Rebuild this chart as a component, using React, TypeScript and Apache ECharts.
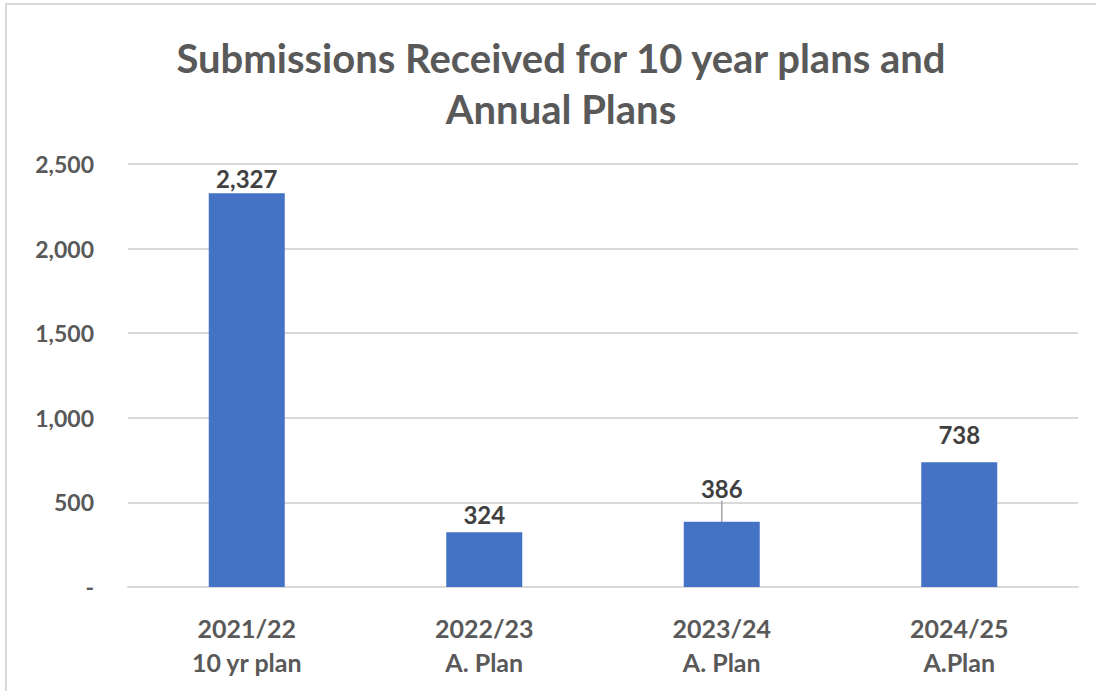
import React, { useEffect, useRef } from "react";
import * as echarts from "echarts";

const titleLines = ["Submissions Received for 10 year plans and", "Annual Plans"];
const categories = ["2021/22\n10 yr plan", "2022/23\nA. Plan", "2023/24\nA. Plan", "2024/25\nA.Plan"];
const submissions = [2327, 324, 386, 738];
const yTicks = [0, 500, 1000, 1500, 2000, 2500];
const yTickLabels = ["-", "500", "1,000", "1,500", "2,000", "2,500"];

// label nudges (layout only) and which labels carry a leader line
const labelNudgeY = [3, 0, -15, -10];
const leaderLine = [false, false, true, false];

const FONT = "Lato, 'Open Sans', sans-serif";

export default function App() {
  const ref = useRef<HTMLDivElement>(null);
  useEffect(() => {
    if (!ref.current) return;
    const chart = echarts.init(ref.current, null, { renderer: "svg" });
    chart.setOption({
      animation: false,
      backgroundColor: "#ffffff",
      title: {
        text: titleLines.join("\n"),
        left: 556,
        textAlign: "center",
        top: 27,
        textStyle: {
          fontFamily: FONT,
          fontWeight: "bold",
          fontSize: 40,
          color: "#595959",
          lineHeight: 51,
        },
      },
      graphic: [
        {
          type: "rect",
          shape: { x: 6, y: 4, width: 1200, height: 800 },
          style: { fill: "none", stroke: "#d9d9d9", lineWidth: 2 },
          silent: true,
        },
      ],
      grid: { left: 128, right: 18, top: 164, bottom: 104 },
      xAxis: {
        type: "category",
        data: categories,
        axisLine: { show: true, lineStyle: { color: "#d9d9d9", width: 2 } },
        axisTick: { show: false },
        axisLabel: {
          fontFamily: FONT,
          fontWeight: "bold",
          fontSize: 25,
          color: "#595959",
          lineHeight: 34,
          margin: 24,
        },
      },
      yAxis: {
        type: "value",
        min: yTicks[0],
        max: yTicks[yTicks.length - 1],
        interval: 500,
        axisLine: { show: false },
        axisTick: { show: false },
        splitLine: { lineStyle: { color: "#d9d9d9", width: 2 } },
        axisLabel: {
          fontFamily: FONT,
          fontWeight: "bold",
          fontSize: 23,
          color: "#595959",
          margin: 34,
          formatter: (v: number) => {
            const i = yTicks.indexOf(v);
            return i >= 0 ? yTickLabels[i] : "";
          },
        },
      },
      series: [
        {
          type: "bar",
          data: submissions.map((v, i) => ({
            value: v,
            labelLine: { show: leaderLine[i] },
          })),
          barWidth: "32%",
          itemStyle: { color: "#4472C4" },
          label: {
            show: true,
            position: "top",
            distance: 6,
            fontFamily: FONT,
            fontWeight: "bold",
            fontSize: 24,
            color: "#404040",
            formatter: (p: any) => Number(p.value).toLocaleString("en-US"),
          },
          labelLine: { show: false, lineStyle: { color: "#a6a6a6", width: 1.5 } },
          labelLayout: (p: any) => ({ dy: labelNudgeY[p.dataIndex] }),
        },
      ],
    });
    return () => chart.dispose();
  }, []);
  return (
    <div
      ref={ref}
      style={{ position: "fixed", left: 0, top: 0, width: 1096, height: 691 }}
    />
  );
}
